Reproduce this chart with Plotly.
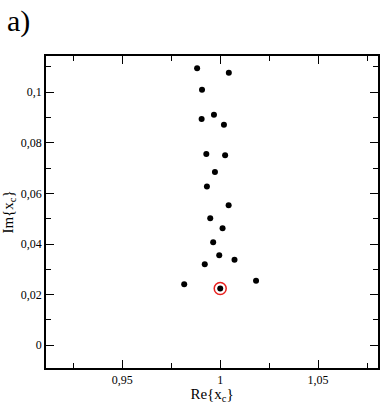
import plotly.graph_objects as go

re_vals = [0.9882, 1.0044, 0.9907, 0.9968, 0.9905, 1.0019, 0.9929, 1.0025, 0.9973, 0.9932,
           1.0043, 0.9949, 1.0012, 0.9964, 0.9995, 1.0073, 0.9921, 0.9816, 1.0183, 1.0000]
im_vals = [0.1095, 0.1077, 0.1010, 0.0911, 0.0894, 0.0871, 0.0756, 0.0751, 0.0685, 0.0627,
           0.0553, 0.0502, 0.0462, 0.0407, 0.0356, 0.0338, 0.0320, 0.0241, 0.0255, 0.0224]
highlight_re = [1.0000]
highlight_im = [0.0224]

font_family = "Liberation Serif, serif"

fig = go.Figure()
fig.add_trace(go.Scatter(x=re_vals, y=im_vals, mode="markers",
                         marker=dict(color="black", size=6), showlegend=False))
fig.add_trace(go.Scatter(x=highlight_re, y=highlight_im, mode="markers",
                         marker=dict(color="rgba(0,0,0,0)", size=12,
                                     line=dict(color="#e8201e", width=1.5)),
                         showlegend=False))

axis_common = dict(showline=True, mirror="allticks", linecolor="black", linewidth=1.5,
                   ticks="inside", ticklen=8, tickwidth=1.2, tickcolor="black",
                   showgrid=False, zeroline=False,
                   tickfont=dict(family=font_family, size=12, color="black"))

fig.update_layout(
    width=382, height=404,
    margin=dict(l=46, r=2, t=56, b=36),
    paper_bgcolor="white", plot_bgcolor="white",
    separators=",.",
    font=dict(family=font_family, color="black", size=12),
    xaxis=dict(range=[0.911, 1.0806], tickvals=[0.95, 1.0, 1.05],
               title=dict(text="Re{x<sub>c</sub>}", font=dict(family=font_family, size=15), standoff=0),
               minor=dict(tickvals=[0.925, 0.975, 1.025, 1.075], ticks="inside", ticklen=5,
                          tickwidth=1.2, tickcolor="black"),
               **axis_common),
    yaxis=dict(range=[-0.009, 0.1143], dtick=0.02, tick0=0,
               title=dict(text="Im{x<sub>c</sub>}", font=dict(family=font_family, size=15), standoff=6),
               minor=dict(dtick=0.01, tick0=0, ticks="inside", ticklen=5,
                          tickwidth=1.2, tickcolor="black"),
               **axis_common),
    annotations=[dict(text="a)", x=-0.125, y=1.172, xref="paper", yref="paper",
                      xanchor="left", yanchor="top", showarrow=False,
                      font=dict(family=font_family, size=30, color="black"))],
)

fig.write_html("out.html", config={"displayModeBar": False},
               post_script="document.body.style.margin='0';")
